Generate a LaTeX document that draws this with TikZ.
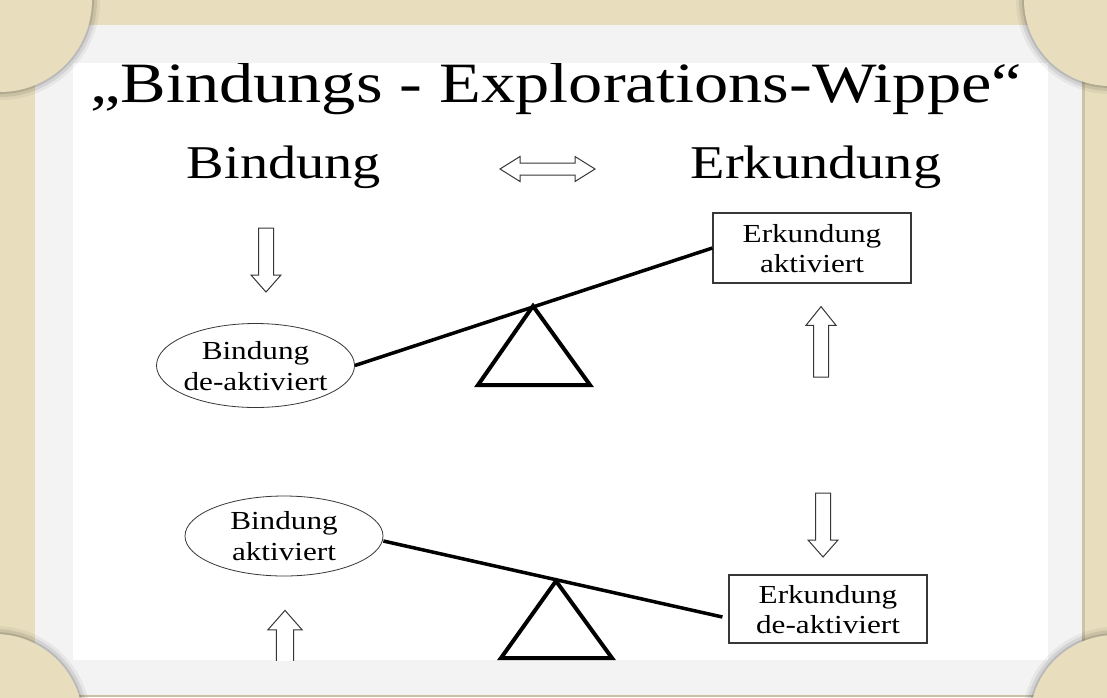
\documentclass[tikz,border=0pt]{standalone}
\usepackage{fontspec}
\setmainfont{Liberation Serif}
\usetikzlibrary{shapes.geometric}
\definecolor{paper}{RGB}{232,222,190}
\definecolor{frame}{RGB}{243,243,243}
\definecolor{outline}{RGB}{55,55,55}
\newcommand\wide[1]{\scalebox{1.2}[1]{#1}}
\newcommand\twolines[2]{\raisebox{-3pt}[\height][\depth]{\wide{\begin{tabular}{@{}c@{}}#1\\#2\end{tabular}}}}

\begin{document}
\begin{tikzpicture}[x=1pt,y=-1pt]
\tikzset{every node/.style={inner sep=0pt,text=black}}
\tikzset{heading/.style={anchor=base,font=\fontsize{47}{50}\selectfont}}
\tikzset{state/.style={ellipse,draw=outline,line width=0.8pt,inner sep=-10pt,minimum width=198pt,minimum height=84pt,font=\fontsize{26}{31}\selectfont}}
\tikzset{statebox/.style={rectangle,draw=outline,line width=1.2pt,minimum width=198pt,minimum height=70pt,font=\fontsize{26}{30}\selectfont}}
\tikzset{beam/.style={line width=3.5pt}}
\tikzset{fulcrum/.style={line width=4pt,line join=miter}}
\tikzset{hollow/.pic={\draw[outline,line width=1pt,line join=miter,fill=white] (-7.5,0) -- (7.5,0) -- (7.5,47) -- (15,47) -- (0,64) -- (-15,47) -- (-7.5,47) -- cycle;}}

\useasboundingbox (0,0) rectangle (1107,697);
\fill[paper] (0,0) rectangle (1107,697);
\fill[black,opacity=0.12] (36,27) rectangle (1085,697);
\fill[frame] (35,25) rectangle (1082,695);
\fill[white] (73,63) rectangle (1048,660);

\begin{scope}
\clip (73,63) rectangle (1048,660);
\node[anchor=base,font=\fontsize{57}{60}\selectfont] (title) at (556,102) {\wide{„Bindungs - Explorations-Wippe“}};
\node[heading] (bind) at (284,178) {\wide{Bindung}};
\node[heading] (erk) at (816,178) {\wide{Erkundung}};
\draw[outline,line width=1pt,line join=miter,fill=white] (500,169) -- (520,156.5) -- (520,163) -- (575,163) -- (575,156.5) -- (595,169) -- (575,181.5) -- (575,175) -- (520,175) -- (520,181.5) -- cycle;

\node[state] (bda) at (255.5,365.5) {\twolines{Bindung}{de-aktiviert}};
\node[statebox] (ea) at (812,248) {\twolines{Erkundung}{aktiviert}};
\node[state,minimum height=80pt] (ba) at (284,536) {\twolines{Bindung}{aktiviert}};
\node[statebox,minimum height=68pt] (eda) at (828,609) {\twolines{Erkundung}{de-aktiviert}};

\pic at (266,228) {hollow};
\pic[rotate=180,yscale=1.1] at (821,377) {hollow};
\pic at (823,493) {hollow};
\pic[rotate=180,scale=1.15] at (285,684) {hollow};

\draw[beam] (bda.east) -- (ea.west);
\draw[fulcrum] (533,306) -- (478,385) -- (590,385) -- cycle;
\draw[beam] ([yshift=-5pt]ba.east) -- ([xshift=-6pt,yshift=-8pt]eda.west);
\draw[fulcrum] (556,581) -- (501,658) -- (612,658) -- cycle;
\end{scope}

\foreach \cx/\cy/\r in {0/0/92, 1110/0/86, -5/722/88, 1115/720/85} {
  \fill[black,opacity=0.05] (\cx,\cy) circle[radius=\r+8];
  \fill[black,opacity=0.08] (\cx,\cy) circle[radius=\r+5];
  \fill[black,opacity=0.12] (\cx,\cy) circle[radius=\r+2];
  \fill[paper] (\cx,\cy) circle[radius=\r];
}
\end{tikzpicture}
\end{document}
